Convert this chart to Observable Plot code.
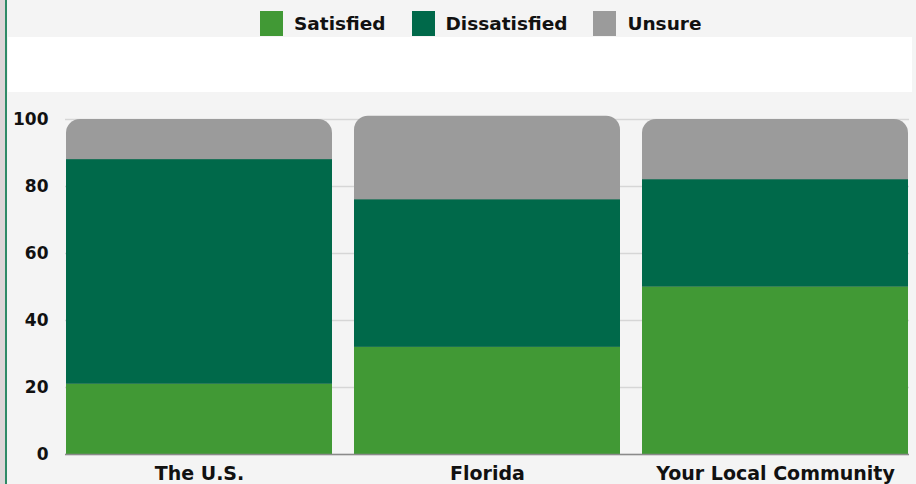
<!DOCTYPE html>
<html>
<head>
<meta charset="utf-8">
<script src="https://cdn.jsdelivr.net/npm/d3@7"></script>
<script src="https://cdn.jsdelivr.net/npm/@observablehq/plot@0.6"></script>
<style>
  html, body { margin: 0; padding: 0; }
  body { width: 916px; height: 484px; overflow: hidden; background: #f4f4f4; position: relative;
         font-family: "DejaVu Sans", sans-serif; font-weight: bold; color: #111; }
  #edge { position: absolute; left: 0; top: 0; width: 5px; height: 484px; background: #ddd6d8; }
  #edgeline { position: absolute; left: 5px; top: 0; width: 2px; height: 484px; background: #2f8a66; }
  #legend { position: absolute; left: 260px; top: 10px; height: 26px; display: flex; align-items: center; font-size: 18.5px; }
  .item { display: flex; align-items: center; margin-right: 26px; }
  .sw { width: 23px; height: 25px; margin-right: 11px; }
  #band { position: absolute; left: 8px; top: 37px; width: 904px; height: 55px; background: #fff; }
  #chart { position: absolute; left: 0; top: 92px; }
</style>
</head>
<body>
<div id="edge"></div>
<div id="edgeline"></div>
<div id="legend"></div>
<div id="band"></div>
<div id="chart"></div>
<script>
const categories = ["The U.S.", "Florida", "Your Local Community"];
const series = ["Satisfied", "Dissatisfied", "Unsure"];
const colors = ["#419935", "#00694a", "#9b9b9b"];
const satisfied = [21, 32, 50];
const dissatisfied = [67, 44, 32];
const unsure = [12, 25, 18];
const yTicks = [0, 20, 40, 60, 80, 100];

// legend
const legend = document.getElementById("legend");
series.forEach((s, i) => {
  const item = document.createElement("div");
  item.className = "item";
  const sw = document.createElement("div");
  sw.className = "sw";
  sw.style.background = colors[i];
  const label = document.createElement("span");
  label.textContent = s;
  item.appendChild(sw);
  item.appendChild(label);
  legend.appendChild(item);
});

const stacked = [];
categories.forEach((c, i) => {
  stacked.push({category: c, series: "Satisfied", value: satisfied[i]});
  stacked.push({category: c, series: "Dissatisfied", value: dissatisfied[i]});
});
const totals = categories.map((c, i) => ({category: c, series: "Unsure", total: satisfied[i] + dissatisfied[i] + unsure[i]}));

const chart = Plot.plot({
  width: 916,
  height: 392,
  marginLeft: 65,
  marginRight: 7,
  marginTop: 27,
  marginBottom: 30,
  style: {background: "transparent", fontFamily: "DejaVu Sans", fontWeight: "bold", color: "#111"},
  x: {domain: categories, paddingInner: 0.075, paddingOuter: 0, label: null},
  y: {domain: [0, 100], label: null},
  color: {domain: series, range: colors},
  marks: [
    Plot.gridY(yTicks, {stroke: "#d6d6d6", strokeOpacity: 1, strokeWidth: 1.5}),
    Plot.barY(totals, {x: "category", y: "total", fill: "series", rx: 14, inset: 0}),
    Plot.barY(stacked, {x: "category", y: "value", fill: "series", inset: 0}),
    Plot.ruleY([0], {stroke: "#8a8a8a", strokeWidth: 1.5}),
    Plot.axisY(yTicks, {tickSize: 0, tickPadding: 17, fontSize: 17, fontWeight: "bold", fill: "#111", label: null}),
    Plot.axisX({tickSize: 0, tickPadding: 12, fontSize: 19, fontWeight: "bold", fill: "#111", label: null})
  ]
});
document.getElementById("chart").appendChild(chart);
</script>
</body>
</html>
